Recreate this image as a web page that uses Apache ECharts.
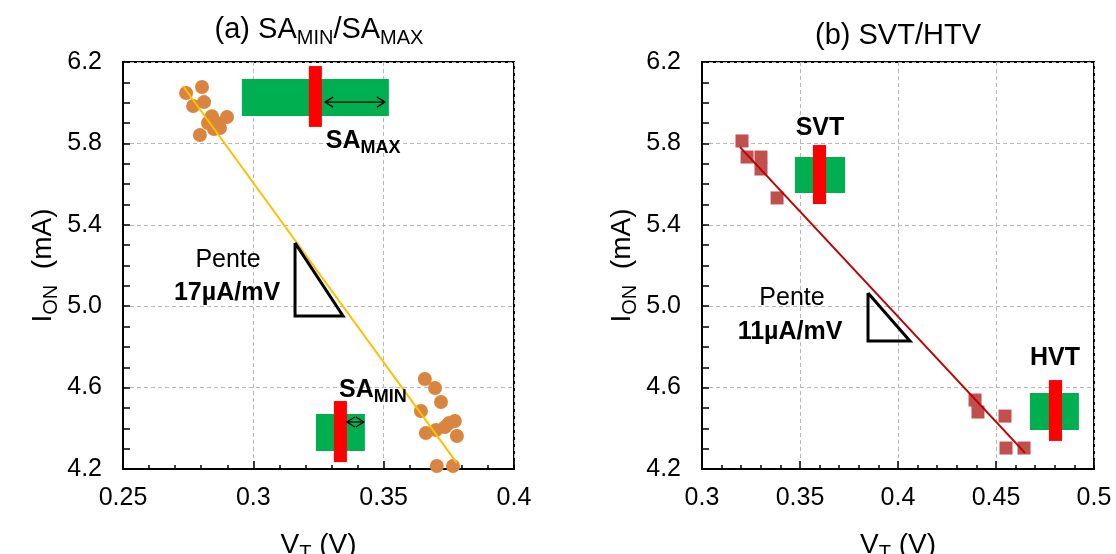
<!DOCTYPE html>
<html><head><meta charset="utf-8">
<script src="https://cdn.jsdelivr.net/npm/echarts@6/dist/echarts.min.js"></script>
<style>html,body{margin:0;padding:0;background:#fff}#c{width:1116px;height:554px}</style>
</head><body><div id="c"></div>
<script>
// ---------- Panel (a) SA_MIN / SA_MAX ----------
const saVt  = [0.2742,0.2803,0.2769,0.2811,0.2841,0.2899,0.2826,0.2861,0.2849,0.2795,0.2872,
               0.3658,0.3697,0.3720,0.3643,0.3662,0.3701,0.3735,0.3751,0.3773,0.3781,0.3704,0.3766];
const saIon = [6.048,6.077,5.984,6.003,5.934,5.930,5.900,5.900,5.871,5.841,5.876,
               4.642,4.598,4.529,4.485,4.377,4.392,4.406,4.426,4.436,4.362,4.215,4.215];
const saFitVt  = [0.2730, 0.3781];
const saFitIon = [6.082, 4.229];
// ---------- Panel (b) SVT / HVT ----------
const vtVt  = [0.3204,0.3230,0.3301,0.3301,0.3383, 0.4393,0.4408,0.4546,0.4551,0.4643];
const vtIon = [5.812,5.733,5.733,5.674,5.532, 4.539,4.480,4.460,4.303,4.303];
const vtFitVt  = [0.3194, 0.4648];
const vtFitIon = [5.782, 4.279];
// ---------- Axis ticks ----------
const yTickValues = [4.2, 4.6, 5.0, 5.4, 5.8, 6.2];
const xRangeA = [0.25, 0.4];
const xRangeB = [0.3, 0.5];
const yRange  = [4.2, 6.2];
// ---------- Annotations (data coordinates) ----------
const greenBoxesA = [[0.2956,6.116,0.3520,5.935],[0.3240,4.470,0.3428,4.288]];
const redBarsA    = [[0.3213,6.180,0.3263,5.881],[0.3309,4.534,0.3359,4.234]];
const arrowsA     = [[0.3275,0.3505,6.003],[0.3359,0.3424,4.431]];
const triangleA   = [[0.3160,5.311],[0.3160,4.952],[0.3344,4.952],[0.3160,5.311]];
const greenBoxesB = [[0.3474,5.733,0.3730,5.556],[0.4673,4.573,0.4923,4.392]];
const redBarsB    = [[0.3566,5.792,0.3633,5.502],[0.4770,4.637,0.4837,4.338]];
const triangleB   = [[0.3847,5.065],[0.3847,4.829],[0.4061,4.829],[0.3847,5.065]];
const notesAText = ['{n|Pente}', '{b|17µA/mV}', '{b|SA}{bs|MAX}', '{b|SA}{bs|MIN}'];
const notesAX    = [0.2903, 0.2899, 0.3421, 0.3459];
const notesAY    = [5.227, 5.065, 5.812, 4.588];
const notesBText = ['{n|Pente}', '{b|11µA/mV}', '{b|SVT}', '{b|HVT}'];
const notesBX    = [0.3459, 0.3449, 0.3602, 0.4801];
const notesBY    = [5.040, 4.873, 5.876, 4.745];
const titleA = '{m|(a) SA}{s|MIN}{m|/SA}{s|MAX}';
const titleB = '(b) SVT/HTV';

const FONT = 'Liberation Sans, Arial, sans-serif';
const chart = echarts.init(document.getElementById('c'));
const zip = (a, b) => a.map((v, i) => [v, b[i]]);

const richNotes = {
  n:  {fontFamily: FONT, fontSize: 25, color: '#000'},
  b:  {fontFamily: FONT, fontSize: 25, fontWeight: 'bold', color: '#000', lineHeight: 32, verticalAlign: 'middle'},
  bs: {fontFamily: FONT, fontSize: 18, fontWeight: 'bold', color: '#000', lineHeight: 32, verticalAlign: 'bottom'}
};
const richAxis = {
  m: {fontFamily: FONT, fontSize: 28, color: '#000', lineHeight: 36, verticalAlign: 'middle'},
  s: {fontFamily: FONT, fontSize: 20, color: '#000', lineHeight: 36, verticalAlign: 'bottom'}
};
const richTitle = {
  m: {fontFamily: FONT, fontSize: 29, color: '#000', lineHeight: 36, verticalAlign: 'middle'},
  s: {fontFamily: FONT, fontSize: 20, color: '#000', lineHeight: 36, verticalAlign: 'bottom'}
};

function rectSeries(gi, boxes, color, z) {
  return {
    type: 'custom', xAxisIndex: gi, yAxisIndex: gi, z: z, clip: false,
    data: boxes, encode: {x: [0, 2], y: [1, 3]},
    renderItem(params, api) {
      const p1 = api.coord([api.value(0), api.value(1)]);
      const p2 = api.coord([api.value(2), api.value(3)]);
      return {type: 'rect', shape: {x: Math.min(p1[0], p2[0]), y: Math.min(p1[1], p2[1]),
        width: Math.abs(p2[0] - p1[0]), height: Math.abs(p2[1] - p1[1])}, style: {fill: color}};
    }
  };
}
function arrowSeries(gi, arrows) {
  return {
    type: 'custom', xAxisIndex: gi, yAxisIndex: gi, z: 6, clip: false,
    data: arrows, encode: {x: [0, 1], y: 2},
    renderItem(params, api) {
      const a = api.coord([api.value(0), api.value(2)]);
      const b = api.coord([api.value(1), api.value(2)]);
      const h = 8, w = 5, y = a[1];
      const st = {stroke: '#000', lineWidth: 1.3, fill: null};
      return {type: 'group', children: [
        {type: 'line', shape: {x1: a[0], y1: y, x2: b[0], y2: y}, style: st},
        {type: 'polyline', shape: {points: [[a[0] + h, y - w], [a[0], y], [a[0] + h, y + w]]}, style: st},
        {type: 'polyline', shape: {points: [[b[0] - h, y - w], [b[0], y], [b[0] - h, y + w]]}, style: st}
      ]};
    }
  };
}
function textSeries(gi, xs, ys, texts) {
  return {
    type: 'custom', xAxisIndex: gi, yAxisIndex: gi, z: 10, clip: false,
    data: zip(xs, ys),
    renderItem(params, api) {
      const p = api.coord([api.value(0), api.value(1)]);
      return {type: 'text', x: p[0], y: p[1], style: {text: texts[params.dataIndex],
        align: 'center', verticalAlign: 'middle', rich: richNotes}};
    }
  };
}
function xAxisDef(gi, range) {
  return {
    gridIndex: gi, type: 'value', min: range[0], max: range[1], interval: 0.05,
    name: '{m|V}{s|T}{m| (V)}', nameLocation: 'middle', nameGap: 58,
    nameTextStyle: {rich: richAxis},
    axisLine: {lineStyle: {color: '#000', width: 2}},
    axisTick: {inside: true, length: 8, lineStyle: {color: '#000', width: 1.5}},
    minorTick: {show: true, splitNumber: 5, length: 4, lineStyle: {color: '#000', width: 1.5}},
    axisLabel: {fontFamily: FONT, fontSize: 25, color: '#000', margin: 17},
    splitLine: {show: true, lineStyle: {color: '#b8b8b8', type: [4, 3], width: 1}}
  };
}
// main y axis: ticks every 0.1, labels every 0.4
function yAxisDef(gi) {
  return {
    gridIndex: gi, type: 'value', position: 'left', min: yRange[0], max: yRange[1], interval: 0.1,
    name: '{m|I}{s|ON}{m|  (mA)}', nameLocation: 'middle', nameGap: 62,
    nameTextStyle: {rich: richAxis},
    axisLine: {lineStyle: {color: '#000', width: 2}},
    axisTick: {inside: true, length: 7, lineStyle: {color: '#000', width: 1.5}},
    axisLabel: {fontFamily: FONT, fontSize: 25, color: '#000', margin: 21, customValues: yTickValues,
      formatter: v => v.toFixed(1)},
    splitLine: {show: false}
  };
}
// companion y axis: only the dashed grid lines at the labelled values
function yGridDef(gi) {
  return {
    gridIndex: gi, type: 'value', position: 'right', min: yRange[0], max: yRange[1], interval: 0.2,
    axisLine: {show: false}, axisLabel: {show: false},
    axisTick: {show: false, customValues: yTickValues},
    splitLine: {show: true, lineStyle: {color: '#b8b8b8', type: [4, 3], width: 1}}
  };
}

const option = {
  animation: false,
  backgroundColor: '#fff',
  grid: [
    {left: 123, top: 62, width: 391, height: 407, show: true, borderColor: '#000', borderWidth: 2,
      outerBoundsMode: 'none', containLabel: false},
    {left: 702, top: 62, width: 392, height: 407, show: true, borderColor: '#000', borderWidth: 2,
      outerBoundsMode: 'none', containLabel: false}
  ],
  xAxis: [xAxisDef(0, xRangeA), xAxisDef(1, xRangeB)],
  yAxis: [yAxisDef(0), yAxisDef(1), yGridDef(0), yGridDef(1)],
  graphic: [
    {type: 'text', x: 319, y: 30, style: {text: titleA, align: 'center', verticalAlign: 'middle', rich: richTitle}},
    {type: 'text', x: 898, y: 36, style: {text: titleB, fontFamily: FONT, fontSize: 29, fill: '#000',
      align: 'center', verticalAlign: 'middle'}}
  ],
  series: [
    rectSeries(0, greenBoxesA, '#00B050', 4),
    rectSeries(0, redBarsA, '#FF0000', 5),
    arrowSeries(0, arrowsA),
    {type: 'scatter', xAxisIndex: 0, yAxisIndex: 0, z: 2, data: zip(saVt, saIon),
      symbol: 'circle', symbolSize: 14, itemStyle: {color: '#DA853F', opacity: 1}},
    {type: 'line', xAxisIndex: 0, yAxisIndex: 0, z: 3, data: zip(saFitVt, saFitIon),
      showSymbol: false, symbol: 'none', lineStyle: {color: '#FFC000', width: 2}},
    {type: 'line', xAxisIndex: 0, yAxisIndex: 0, z: 6, data: triangleA,
      showSymbol: false, symbol: 'none', lineStyle: {color: '#000', width: 3, join: 'miter'}},
    textSeries(0, notesAX, notesAY, notesAText),

    rectSeries(1, greenBoxesB, '#00B050', 4),
    rectSeries(1, redBarsB, '#FF0000', 5),
    {type: 'scatter', xAxisIndex: 1, yAxisIndex: 1, z: 2, data: zip(vtVt, vtIon),
      symbol: 'rect', symbolSize: 13, itemStyle: {color: '#C0504D', opacity: 1}},
    {type: 'line', xAxisIndex: 1, yAxisIndex: 1, z: 3, data: zip(vtFitVt, vtFitIon),
      showSymbol: false, symbol: 'none', lineStyle: {color: '#C00000', width: 2}},
    {type: 'line', xAxisIndex: 1, yAxisIndex: 1, z: 6, data: triangleB,
      showSymbol: false, symbol: 'none', lineStyle: {color: '#000', width: 3, join: 'miter'}},
    textSeries(1, notesBX, notesBY, notesBText)
  ]
};
chart.setOption(option);
</script></body></html>
